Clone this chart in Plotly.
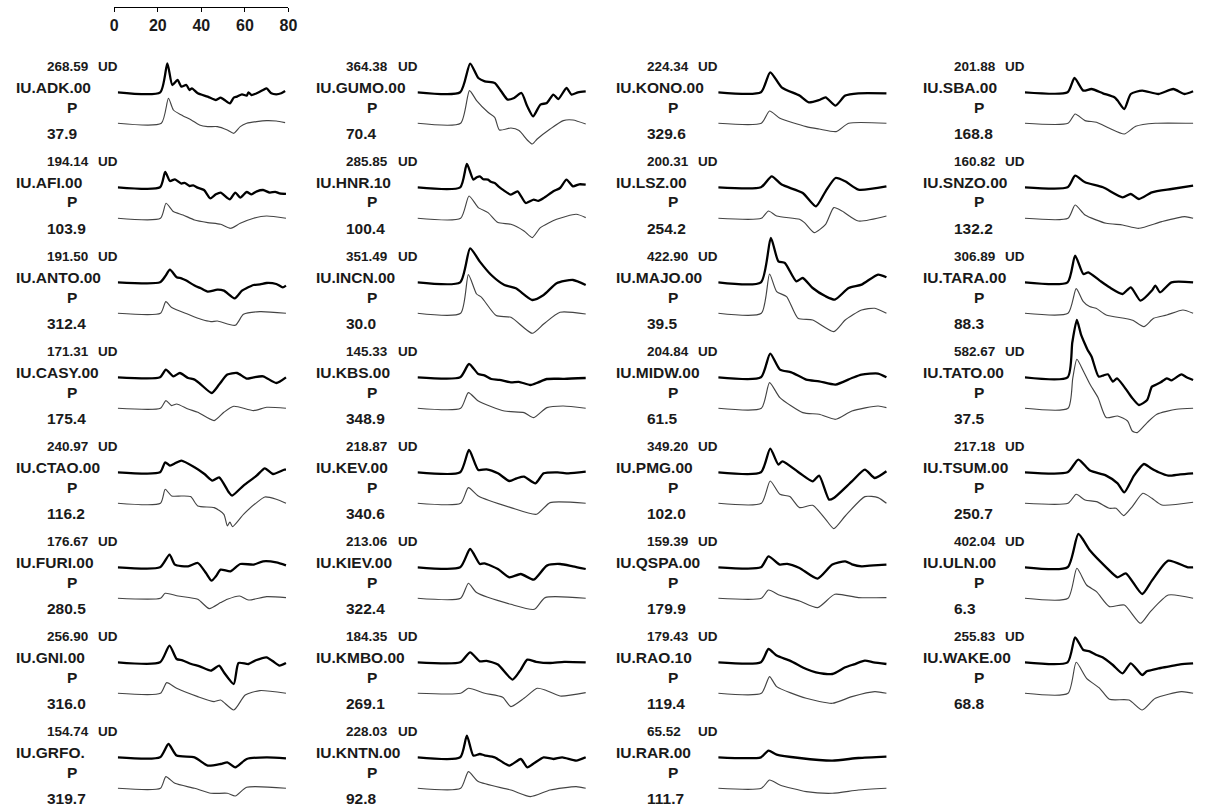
import plotly.graph_objects as go

# ---------------- data (time s, amplitude in label units) ----------------
STATIONS = ["IU.ADK.00", "IU.AFI.00", "IU.ANTO.00", "IU.CASY.00", "IU.CTAO.00", "IU.FURI.00", "IU.GNI.00", "IU.GRFO.",
            "IU.GUMO.00", "IU.HNR.10", "IU.INCN.00", "IU.KBS.00", "IU.KEV.00", "IU.KIEV.00", "IU.KMBO.00", "IU.KNTN.00",
            "IU.KONO.00", "IU.LSZ.00", "IU.MAJO.00", "IU.MIDW.00", "IU.PMG.00", "IU.QSPA.00", "IU.RAO.10", "IU.RAR.00",
            "IU.SBA.00", "IU.SNZO.00", "IU.TARA.00", "IU.TATO.00", "IU.TSUM.00", "IU.ULN.00", "IU.WAKE.00"]
AMPLITUDES = ["268.59", "194.14", "191.50", "171.31", "240.97", "176.67", "256.90", "154.74",
              "364.38", "285.85", "351.49", "145.33", "218.87", "213.06", "184.35", "228.03",
              "224.34", "200.31", "422.90", "204.84", "349.20", "159.39", "179.43", "65.52",
              "201.88", "160.82", "306.89", "582.67", "217.18", "402.04", "255.83"]
AZIMUTHS = ["37.9", "103.9", "312.4", "175.4", "116.2", "280.5", "316.0", "319.7",
            "70.4", "100.4", "30.0", "348.9", "340.6", "322.4", "269.1", "92.8",
            "329.6", "254.2", "39.5", "61.5", "102.0", "179.9", "119.4", "111.7",
            "168.8", "132.2", "88.3", "37.5", "250.7", "6.3", "68.8"]
COMPONENT = "UD"
PHASE = "P"
SCALE_TICKS = [0, 20, 40, 60, 80]

ADK_OBS = [(0,0),(19.7,0),(23,290),(25.3,73),(27.7,123),(29.5,57),(31.8,73),(33.3,23),(34.4,40),(37.1,-10),(41.7,-43),(45.5,-77),(47.7,-53),(49.5,-77),(52,-110),(53.8,-53),(55.3,-43),(57.6,-20),(59.8,-33),(60.6,0),(62,-27),(64.4,-10),(67.4,23),(69,40),(71.2,-10),(73.5,-20),(75.8,-10),(77.6,13)]
ADK_SYN = [(0,0),(20.2,0),(23.5,250),(25.8,133),(29.5,83),(34.1,33),(37.9,-17),(41.7,-33),(46.2,-33),(50.8,-67),(53.8,-100),(56.8,-33),(59.8,0),(64.4,17),(69,27),(73.5,23),(77.6,7)]
AFI_OBS = [(0,0),(19.6,0),(22,153),(24.2,63),(26.5,80),(29.5,37),(31,45),(33.3,13),(35,20),(37,-3),(40,-27),(42.9,-110),(45.5,-70),(47.7,-53),(52,-120),(54.5,-53),(56.8,-103),(59.8,-47),(62,-70),(64.5,-40),(67.4,-27),(70.5,-53),(73,-45),(75,-60),(78,-65)]
AFI_SYN = [(0,0),(19.8,0),(22.4,150),(25.8,67),(30.3,33),(35.6,-17),(41.7,-43),(47.7,-60),(52.3,-100),(56.8,-50),(63,0),(69,23),(78,0)]
ANTO_OBS = [(0,0),(19.6,0),(22,60),(24.2,127),(27.3,50),(29.5,40),(31.8,17),(35.6,-33),(38.5,-60),(41.7,-93),(46.2,-73),(49.2,-83),(54.2,-160),(57.6,-83),(60,-55),(63,-27),(66,-20),(69,-7),(73.5,-17),(76.5,-50),(78,-33)]
ANTO_SYN = [(0,0),(19.8,0),(22.3,117),(25,57),(32.6,-10),(38.6,-60),(43.2,-83),(46.2,-77),(54.5,-120),(58.3,-10),(65.9,17),(78,0)]
CASY_OBS = [(0,0),(19.6,0),(22.3,77),(25.8,10),(28.8,43),(32.6,-7),(35.6,-23),(38.6,-73),(43.6,-157),(47,-73),(50.8,27),(55.3,43),(59.8,-13),(63,0),(67.4,10),(73.5,-57),(78,0)]
CASY_SYN = [(0,0),(19.8,0),(22.3,77),(25,27),(27.3,43),(32.6,-7),(37.1,-40),(44.7,-123),(49.2,-40),(53.8,20),(63,-23),(69,10),(78,0)]
CTAO_OBS = [(0,0),(19.6,0),(22,100),(24.2,67),(27,95),(29.5,117),(35.6,50),(40.2,-17),(43.9,-83),(47,-50),(51.5,-200),(53,-233),(58.3,-133),(64.4,-33),(68.2,40),(72,-17),(77.3,27),(78,27)]
CTAO_SYN = [(0,0),(19.8,0),(22,140),(25,73),(29.5,73),(33.8,67),(37.1,-27),(44.7,-43),(49.2,-110),(50.8,-227),(52,-187),(53.2,-233),(58.3,-110),(64.4,7),(68.2,63),(73.5,40),(78,0)]
FURI_OBS = [(0,0),(19.6,0),(24,127),(26.5,27),(32.6,10),(37.1,43),(40.9,-57),(43.5,-133),(45.5,-90),(47.7,-23),(52.3,-40),(56.8,33),(63,27),(67.4,60),(73.5,50),(78,20)]
FURI_SYN = [(0,0),(19.8,0),(22,50),(28,23),(37.1,-10),(42.4,-103),(47.7,-43),(50.8,-10),(56.5,23),(60.6,-17),(69,17),(78,7)]
GNI_OBS = [(0,0),(19.6,0),(24,167),(27.3,33),(30,20),(34.1,-17),(38,-40),(43.2,-83),(47,-33),(49.2,-100),(53.8,-217),(56,-7),(60.6,-17),(64,20),(69,50),(72,10),(75,-33),(78,-7)]
GNI_SYN = [(0,0),(19.8,0),(22.7,107),(27.3,50),(37.1,-33),(44.7,-83),(47.7,-67),(53.8,-167),(59.1,-17),(65.9,27),(78,0)]
GRFO_OBS = [(0,0),(19.6,0),(23.5,133),(27.3,17),(35.6,0),(41.7,-83),(47.7,-67),(50.8,-50),(54.5,-100),(59.8,-17),(69,0),(78,-10)]
GRFO_SYN = [(0,0),(19.8,0),(22.3,117),(26.5,50),(35.6,0),(43.2,-50),(50.8,-50),(54.5,-77),(59.8,10),(78,0)]
GUMO_OBS = [(0,0),(19.8,0),(24.4,287),(28.2,143),(31.2,110),(35.8,93),(38.8,10),(41.8,-73),(44.8,-57),(48.2,-7),(50.9,-140),(53.6,-240),(57,-123),(60,-107),(63,-23),(65.3,-67),(69.1,43),(71.4,-23),(74.4,0),(78,10)]
GUMO_SYN = [(0,0),(20,0),(24.1,327),(27.4,227),(32.7,110),(35.8,60),(38,-67),(43.3,-47),(47.1,-73),(50.9,-167),(53.2,-207),(55.5,-157),(61.5,-57),(67.6,27),(72.1,33),(78,-7)]
HNR_OBS = [(0,0),(19.8,0),(22.9,233),(25.9,77),(27.5,100),(28.9,110),(30.5,80),(32.7,77),(34,55),(35.8,43),(37.5,10),(39.5,-23),(43.3,-73),(46.4,-40),(50.2,-157),(53.9,-123),(56,-135),(58.5,-107),(63,-40),(66.1,-7),(69.1,77),(72.1,10),(75,30),(78,27)]
HNR_SYN = [(0,0),(20,0),(23.9,223),(28.2,107),(32.7,57),(37.3,-43),(43.3,-60),(49.4,-127),(53.2,-193),(57,-93),(64.5,-10),(73.6,40),(78,7)]
INCN_OBS = [(0,0),(19.8,0),(24.4,340),(28.9,207),(34.2,73),(40.3,-27),(45.6,-60),(53.2,-177),(58.5,-127),(64.5,-10),(72.1,23),(78,-27)]
INCN_SYN = [(0,0),(20,0),(23.6,387),(27.4,193),(29.7,160),(36.5,-23),(43.3,-40),(53.2,-200),(58.5,-107),(66.1,10),(78,-7)]
KBS_OBS = [(0,0),(19.8,0),(23.9,133),(28.2,33),(31,20),(34.2,-17),(38,-25),(43.3,-50),(47,-45),(52.4,-77),(56,-50),(60,-17),(68,-15),(78,-7)]
KBS_SYN = [(0,0),(20,0),(23.6,157),(28.2,73),(40.3,-27),(49.4,-43),(53.9,-93),(60,7),(67.6,23),(78,0)]
KEV_OBS = [(0,0),(19.8,0),(23.9,223),(28.2,23),(32,30),(37.3,-10),(42.6,-87),(46,-60),(49.4,-43),(54.7,-110),(58.5,-10),(65,0),(70,-10),(78,7)]
KEV_SYN = [(0,0),(20,0),(23.6,157),(28.2,73),(43.3,-43),(55.2,-110),(61.5,7),(78,0)]
KIEV_OBS = [(0,0),(19.8,0),(24.4,183),(28.9,33),(31,40),(37.3,-17),(42.6,-100),(47.9,-67),(53.9,-123),(60,17),(66.1,33),(72,10),(78,-17)]
KIEV_SYN = [(0,0),(20,0),(23.6,150),(27.4,57),(43.3,-60),(54.2,-110),(59.2,7),(78,0)]
KMBO_OBS = [(0,0),(19.8,0),(24.4,100),(28.9,10),(32,15),(37.3,-23),(44.1,-173),(47.9,-73),(50.9,27),(55,5),(61.5,-7),(68,5),(78,0)]
KMBO_SYN = [(0,0),(20,0),(23.6,50),(31.2,0),(39.5,-40),(43.3,-133),(49.4,-50),(55.5,50),(59.2,33),(66.1,-27),(78,7)]
KNTN_OBS = [(0,0),(19.8,0),(22.9,217),(25.9,17),(28.9,33),(31,20),(35.8,0),(42.6,-83),(47.9,-17),(50.9,-100),(54,-60),(58.5,0),(63,-17),(67.1,0),(73.6,-33),(78,0)]
KNTN_SYN = [(0,0),(20,0),(23.6,167),(28.2,67),(43.3,-17),(52.4,-83),(61.5,-17),(73.6,17),(78,0)]
KONO_OBS = [(0,0),(19.8,0),(24.1,200),(29.4,50),(37.7,-33),(42,-100),(46.8,-77),(49.8,-50),(54.4,-133),(58.9,-33),(65,-10),(78,-10)]
KONO_SYN = [(0,0),(20,0),(23.8,123),(28.6,50),(40.8,-33),(46.8,-57),(54.7,-83),(60.5,0),(78,0)]
LSZ_OBS = [(0,0),(19.8,0),(24.8,110),(29.4,27),(39.2,-57),(45.3,-190),(49.8,-40),(54.4,93),(58.9,60),(65,-23),(78,10)]
LSZ_SYN = [(0,0),(20,0),(23.3,73),(27.1,23),(37.7,-10),(40,-43),(44.5,-143),(49.8,-60),(53.6,107),(57.4,73),(65,-27),(78,23)]
MAJO_OBS = [(0,0),(19.8,0),(24.4,443),(27.9,210),(30.9,193),(36.2,10),(39.2,43),(43.8,-57),(49.8,-140),(54.1,-173),(60.5,-57),(66.5,-23),(74.1,77),(78,50)]
MAJO_SYN = [(0,0),(20,0),(23.8,393),(27.1,217),(31.7,167),(37,-50),(43.8,-67),(53.6,-183),(58.9,-67),(66.5,33),(72.6,50),(78,0)]
MIDW_OBS = [(0,0),(19.8,0),(24.1,237),(28.6,77),(33.9,50),(40.8,-23),(46.8,-40),(54.4,-73),(62,-7),(66.5,27),(74.1,37),(78,0)]
MIDW_SYN = [(0,0),(20,0),(23.8,257),(28.6,107),(39.2,-43),(46.8,-60),(54.4,-110),(62,-27),(74.1,23),(78,7)]
PMG_OBS = [(0,0),(19.8,0),(24.1,237),(27.9,77),(29.8,110),(37.7,-7),(43.8,-90),(46.8,-33),(51.4,-273),(53.6,-257),(62,-90),(68,27),(72.6,-57),(78,10)]
PMG_SYN = [(0,0),(20,0),(24.1,223),(28.6,90),(33.2,67),(37.7,-43),(43.8,-20),(49.8,-160),(53.6,-253),(58.9,-127),(68,67),(74.1,57),(78,0)]
QSPA_OBS = [(0,0),(19.8,0),(23.3,110),(28.6,27),(32,35),(37.7,-7),(46.1,-113),(52.9,27),(58.9,60),(62,30),(66.5,10),(72,20),(78,27)]
QSPA_SYN = [(0,0),(20,0),(23.3,83),(28.6,30),(37.7,-27),(46.1,-93),(54.1,40),(65,7),(78,7)]
RAO_OBS = [(0,0),(19.8,0),(23.3,133),(27.1,67),(33.2,17),(40.8,-67),(45.3,-100),(52.9,-117),(58.9,-50),(63,-20),(68,17),(72,0),(78,-17)]
RAO_SYN = [(0,0),(20,0),(23.8,167),(27.1,67),(40.8,-50),(52.9,-100),(62,-33),(72.6,17),(78,0)]
RAR_OBS = [(0,0),(19.8,0),(23.3,67),(27.1,27),(37.7,-7),(52.9,-33),(65,-7),(78,7)]
RAR_SYN = [(0,0),(20,0),(23.8,83),(28.6,33),(40.8,-33),(52.9,-50),(65,-17),(78,0)]
SBA_OBS = [(0,0),(19.8,0),(23,143),(27.1,17),(30.9,33),(36.2,-10),(41.5,-50),(43,-83),(46.1,-167),(49.1,-17),(54.4,17),(62,-17),(68.8,33),(74.1,-17),(78,10)]
SBA_SYN = [(0,0),(20,0),(23.3,93),(27.9,27),(33.2,10),(39.2,-50),(46.1,-107),(51.4,-30),(60.5,0),(78,0)]
SNZO_OBS = [(0,0),(19.8,0),(23.3,117),(27.9,50),(36.2,0),(45.3,-100),(49.1,-67),(52.9,-117),(58.9,-50),(68,-17),(78,17)]
SNZO_SYN = [(0,0),(20,0),(23.3,133),(27.9,33),(37.7,-50),(45.3,-67),(52.9,-100),(63.5,-33),(74.1,17),(78,0)]
TARA_OBS = [(0,0),(19.8,0),(23.3,267),(27.1,83),(29.4,100),(34.7,17),(39.2,-50),(45.3,-117),(49.1,-50),(53.6,-183),(58.9,-83),(60.5,-33),(62.7,-100),(68,0),(78,0)]
TARA_SYN = [(0,0),(20,0),(23.8,247),(27,120),(30,67),(33,50),(37.7,-17),(46,-50),(50,-70),(55.2,-133),(59.7,-50),(65.8,-17),(73.3,33),(78,0)]
TATO_OBS = [(0,0),(19.8,0),(22,350),(24.1,573),(26,430),(27.9,330),(29.1,273),(30.9,207),(34.2,7),(36.5,20),(38.5,30),(40.8,-43),(42.7,-10),(46,-93),(49.5,-200),(52.9,-277),(56.7,-227),(58.9,-93),(61.2,-70),(63,-50),(65.8,-10),(68,-30),(72.6,30),(75,0),(78,-27)]
TATO_SYN = [(0,0),(20,0),(22.2,300),(24.1,490),(27.1,373),(30.2,240),(33.9,107),(37.7,-93),(43,-77),(47.6,-127),(49.8,-227),(52.1,-243),(56.7,-143),(61.2,-60),(70.3,-10),(78,0)]
TSUM_OBS = [(0,0),(19.8,0),(24.8,127),(30.2,17),(37.7,-33),(43,-110),(46.1,-200),(50.6,-33),(55.2,83),(58.5,40),(62,0),(66.5,-33),(72,-20),(78,-10)]
TSUM_SYN = [(0,0),(20,0),(23.8,90),(27.9,33),(33.2,17),(39.2,-50),(42.3,-50),(45.8,-123),(49.8,-33),(54.7,100),(58.9,50),(63.5,-17),(78,10)]
ULN_OBS = [(0,0),(19.8,0),(24.8,333),(30.2,167),(37.7,0),(43,-100),(46.8,-60),(54.4,-267),(58.9,-133),(66.5,67),(75.6,0),(78,0)]
ULN_SYN = [(0,0),(20,0),(24.1,300),(28.6,133),(33.2,67),(39.2,-83),(46.1,-67),(53.6,-250),(58.2,-133),(66.5,33),(78,0)]
WAKE_OBS = [(0,0),(19.8,0),(23.3,250),(27.1,123),(30,110),(33.2,73),(36,50),(40.8,-27),(45.3,-110),(49.1,-10),(54.4,-127),(56.5,-90),(58.9,-77),(62,-60),(66.5,-43),(72,-20),(78,-10)]
WAKE_SYN = [(0,0),(20,0),(23.8,310),(28.6,150),(34.7,50),(39.2,-60),(48.3,-67),(54.4,-167),(60.5,-50),(72.6,17),(78,0)]

OBSERVED = [ADK_OBS, AFI_OBS, ANTO_OBS, CASY_OBS, CTAO_OBS, FURI_OBS, GNI_OBS, GRFO_OBS,
            GUMO_OBS, HNR_OBS, INCN_OBS, KBS_OBS, KEV_OBS, KIEV_OBS, KMBO_OBS, KNTN_OBS,
            KONO_OBS, LSZ_OBS, MAJO_OBS, MIDW_OBS, PMG_OBS, QSPA_OBS, RAO_OBS, RAR_OBS,
            SBA_OBS, SNZO_OBS, TARA_OBS, TATO_OBS, TSUM_OBS, ULN_OBS, WAKE_OBS]
SYNTHETIC = [ADK_SYN, AFI_SYN, ANTO_SYN, CASY_SYN, CTAO_SYN, FURI_SYN, GNI_SYN, GRFO_SYN,
             GUMO_SYN, HNR_SYN, INCN_SYN, KBS_SYN, KEV_SYN, KIEV_SYN, KMBO_SYN, KNTN_SYN,
             KONO_SYN, LSZ_SYN, MAJO_SYN, MIDW_SYN, PMG_SYN, QSPA_SYN, RAO_SYN, RAR_SYN,
             SBA_SYN, SNZO_SYN, TARA_SYN, TATO_SYN, TSUM_SYN, ULN_SYN, WAKE_SYN]

# ---------------- layout geometry ----------------
W, H = 1207, 812
UNITS_PER_PX = 10.0          # amplitude units per pixel
PX_PER_SEC = 2.18
T_RANGE = 78.5
ROWS_PER_COL = 8
COL_X = [0, 303, 607, 917]
ROW0_Y = 66.7
ROW_DY = 95.0
FONT = "Liberation Sans, Arial, sans-serif"
TXT = "#1a1a1a"

fig = go.Figure()
axis_names = ["x", "x2", "x3", "x4"]

for i, name in enumerate(STATIONS):
    col, row = divmod(i, ROWS_PER_COL)
    top = ROW0_Y + ROW_DY * row
    base_obs = top + 25.6
    base_syn = top + 56.6
    for pairs, base, color, width in ((SYNTHETIC[i], base_syn, "#444444", 1.15),
                                      (OBSERVED[i], base_obs, "#000000", 2.3)):
        fig.add_trace(go.Scatter(
            x=[p[0] for p in pairs],
            y=[p[1] - base * UNITS_PER_PX for p in pairs],
            mode="lines", line=dict(color=color, width=width, shape="spline", smoothing=0.6),
            xaxis=axis_names[col], yaxis="y", showlegend=False, hoverinfo="skip"))

    cx = COL_X[col] - 4
    def ann(text, x, y, size, anchor="left"):
        fig.add_annotation(text="<b>%s</b>" % text, x=x / W, y=1 - y / H, xref="paper", yref="paper",
                           xanchor=anchor, yanchor="middle", showarrow=False,
                           font=dict(family=FONT, size=size, color=TXT))
    ann(AMPLITUDES[i], cx + 45, top, 13.5)
    ann(COMPONENT, cx + 97, top, 13.5)
    ann(name, cx + 14, top + 20.6, 15.5)
    ann(PHASE, cx + 73, top + 40.3, 15.5, "center")
    ann(AZIMUTHS[i], cx + 45, top + 67, 15.5)

# scale bar trace (invisible) so the axis renders
fig.add_trace(go.Scatter(x=[SCALE_TICKS[0], SCALE_TICKS[-1]], y=[0, 0], xaxis="x5", yaxis="y2",
                         mode="lines", line=dict(width=0), opacity=0, showlegend=False, hoverinfo="skip"))

layout = dict(width=W, height=H, autosize=False, margin=dict(l=0, r=0, t=0, b=0),
              paper_bgcolor="white", plot_bgcolor="rgba(0,0,0,0)", showlegend=False)
for c, an in enumerate(axis_names):
    key = "xaxis" if an == "x" else "xaxis" + an[1:]
    x0 = (115 + COL_X[c]) / W
    layout[key] = dict(domain=[x0, x0 + T_RANGE * PX_PER_SEC / W], range=[0, T_RANGE], visible=False,
                       anchor="y", fixedrange=True)
layout["yaxis"] = dict(domain=[0, 1], range=[-H * UNITS_PER_PX, 0], visible=False, fixedrange=True)
layout["xaxis5"] = dict(domain=[111.5 / W, 287.5 / W], range=[SCALE_TICKS[0], SCALE_TICKS[-1]], anchor="y2",
                        showline=True, linecolor="black", linewidth=1.3, ticks="outside", ticklen=4,
                        tickwidth=1.3, tickcolor="black", tickvals=SCALE_TICKS, showgrid=False,
                        zeroline=False, tickfont=dict(family=FONT, size=16, color=TXT, weight="bold"))
layout["yaxis2"] = dict(domain=[1 - 6.5 / H, 1], range=[0, 1], visible=False, anchor="x5")
fig.update_layout(**layout)

fig.write_html("out.html")
